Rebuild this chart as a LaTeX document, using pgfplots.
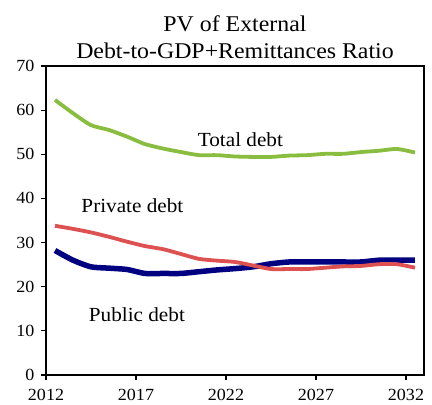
\documentclass[border=0pt]{standalone}
\usepackage{fontspec}
\setmainfont{Liberation Serif}[FakeStretch=1.06]
\usepackage{pgfplots}
\pgfplotsset{compat=1.18}
\definecolor{totgreen}{RGB}{137,189,64}
\definecolor{privred}{RGB}{221,82,80}
\definecolor{pubblue}{RGB}{0,0,128}

\begin{document}
\begin{tikzpicture}
\begin{axis}[
    scale only axis,
    width=378pt, height=309pt,
    xmin=2011.5, xmax=2032.5,
    ymin=0, ymax=70,
    xtick={2011.5,2016.5,2021.5,2026.5,2031.5},
    xticklabels={2012,2017,2022,2027,2032},
    ytick={0,10,...,70},
    axis line style={line width=1.3pt},
    tick style={line width=1.1pt, black},
    tick align=outside,
    major tick length=5pt,
    xtick pos=bottom, ytick pos=left,
    tick label style={font=\fontsize{17}{20}\selectfont},
    xticklabel style={yshift=-6pt},
    yticklabel style={xshift=-3pt},
    /pgf/number format/assume math mode=true,
    title={PV of External\\Debt-to-GDP+Remittances Ratio},
    title style={align=center, font=\fontsize{22.5}{27}\selectfont, yshift=-2pt},
    clip=false,
]
    %% Public debt
    \addplot[pubblue, line width=5.5pt, smooth, tension=0.4] coordinates {
        (2012,28.2) (2013,26.0) (2014,24.5) (2015,24.2) (2016,23.9)
        (2017,23.0) (2018,23.0) (2019,23.0) (2020,23.4) (2021,23.8)
        (2022,24.1) (2023,24.5) (2024,25.2) (2025,25.6) (2026,25.6)
        (2027,25.6) (2028,25.6) (2029,25.6) (2030,26.0) (2031,26.0)
        (2032,26.0)
    };

    %% Private debt
    \addplot[privred, line width=3.8pt, smooth, tension=0.4] coordinates {
        (2012,33.8) (2013,33.1) (2014,32.3) (2015,31.3) (2016,30.2)
        (2017,29.2) (2018,28.5) (2019,27.4) (2020,26.3) (2021,25.9)
        (2022,25.6) (2023,24.8) (2024,24.0) (2025,24.0) (2026,24.0)
        (2027,24.3) (2028,24.6) (2029,24.7) (2030,25.1) (2031,25.1)
        (2032,24.3)
    };

    %% Total debt
    \addplot[totgreen, line width=3.8pt, smooth, tension=0.4] coordinates {
        (2012,62.3) (2013,59.3) (2014,56.6) (2015,55.5) (2016,54.0)
        (2017,52.3) (2018,51.3) (2019,50.5) (2020,49.8) (2021,49.8)
        (2022,49.5) (2023,49.4) (2024,49.4) (2025,49.7) (2026,49.8)
        (2027,50.1) (2028,50.1) (2029,50.5) (2030,50.8) (2031,51.2)
        (2032,50.4)
    };

    \node[font=\fontsize{20}{24}\selectfont] at (axis cs:2022.3,53.2) {Total debt};
    \node[font=\fontsize{20}{24}\selectfont] at (axis cs:2016.3,38.3) {Private debt};
    \node[font=\fontsize{20}{24}\selectfont] at (axis cs:2016.55,13.6) {Public debt};

    % page frame matching the reference's margins
    \path (rel axis cs:-0.1217,-0.0906) rectangle (rel axis cs:1.0212,1.2136);
\end{axis}
\end{tikzpicture}
\end{document}
